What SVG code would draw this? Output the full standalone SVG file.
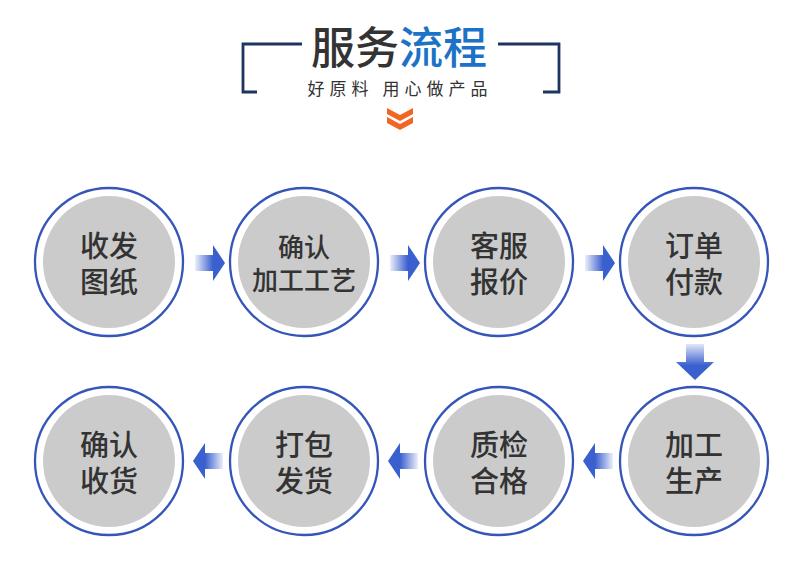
<svg xmlns="http://www.w3.org/2000/svg" width="800" height="563" viewBox="0 0 800 563">
<defs>
<style>
.ring{fill:none;stroke:#3555b8;stroke-width:2.3}
.disc{fill:#cbcbcb}
.t{font-family:"Noto Sans CJK SC","Noto Sans",sans-serif;fill:#333;text-anchor:middle;font-weight:500}
.br{fill:none;stroke:#1e3560;stroke-width:2.8}
</style>
<linearGradient id="gr" x1="0" y1="0" x2="1" y2="0">
<stop offset="0" stop-color="#3a5fcf" stop-opacity="0.1"/>
<stop offset="0.6" stop-color="#3a5fcf"/>
<stop offset="1" stop-color="#3a5fcf"/>
</linearGradient>
<linearGradient id="gl" x1="1" y1="0" x2="0" y2="0">
<stop offset="0" stop-color="#3a5fcf" stop-opacity="0.1"/>
<stop offset="0.6" stop-color="#3a5fcf"/>
<stop offset="1" stop-color="#3a5fcf"/>
</linearGradient>
<linearGradient id="gd" x1="0" y1="0" x2="0" y2="1">
<stop offset="0" stop-color="#3a5fcf" stop-opacity="0.15"/>
<stop offset="0.6" stop-color="#3a5fcf"/>
<stop offset="1" stop-color="#3a5fcf"/>
</linearGradient>
</defs>
<rect width="800" height="563" fill="#fff"/>
<g id="header">
<path class="br" d="M302 44H243V92H257"/>
<path class="br" d="M498 44H559V92H543"/>
<text x="399" y="64" font-family="'Noto Sans CJK SC',sans-serif" font-size="44" text-anchor="middle" font-weight="500"><tspan fill="#333">服务</tspan><tspan fill="#1b72c6">流程</tspan></text>
<text x="400" y="95" font-family="'Noto Sans CJK SC',sans-serif" font-size="17" fill="#333" text-anchor="middle" letter-spacing="5">好原料 用心做产品</text>
<path d="M387 108L400 115L413 108V114L400 121L387 114Z M387 117L400 124L413 117V123L400 130L387 123Z" fill="#f26522"/>
</g>
<g id="n1"><circle class="ring" cx="109" cy="262" r="74"/><circle class="disc" cx="109" cy="262" r="66"/><text class="t" font-size="29"><tspan x="109" y="257">收发</tspan><tspan x="109" y="293">图纸</tspan></text></g>
<g id="n2"><circle class="ring" cx="304" cy="262" r="74"/><circle class="disc" cx="304" cy="262" r="66"/><text class="t" font-size="26"><tspan x="304" y="257">确认</tspan><tspan x="304" y="290">加工工艺</tspan></text></g>
<g id="n3"><circle class="ring" cx="499" cy="262" r="74"/><circle class="disc" cx="499" cy="262" r="66"/><text class="t" font-size="29"><tspan x="499" y="257">客服</tspan><tspan x="499" y="293">报价</tspan></text></g>
<g id="n4"><circle class="ring" cx="694" cy="262" r="74"/><circle class="disc" cx="694" cy="262" r="66"/><text class="t" font-size="29"><tspan x="694" y="257">订单</tspan><tspan x="694" y="293">付款</tspan></text></g>
<g id="n5"><circle class="ring" cx="694" cy="461" r="74"/><circle class="disc" cx="694" cy="461" r="66"/><text class="t" font-size="29"><tspan x="694" y="456">加工</tspan><tspan x="694" y="492">生产</tspan></text></g>
<g id="n6"><circle class="ring" cx="499" cy="461" r="74"/><circle class="disc" cx="499" cy="461" r="66"/><text class="t" font-size="29"><tspan x="499" y="456">质检</tspan><tspan x="499" y="492">合格</tspan></text></g>
<g id="n7"><circle class="ring" cx="304" cy="461" r="74"/><circle class="disc" cx="304" cy="461" r="66"/><text class="t" font-size="29"><tspan x="304" y="456">打包</tspan><tspan x="304" y="492">发货</tspan></text></g>
<g id="n8"><circle class="ring" cx="109" cy="461" r="74"/><circle class="disc" cx="109" cy="461" r="66"/><text class="t" font-size="29"><tspan x="109" y="456">确认</tspan><tspan x="109" y="492">收货</tspan></text></g>
<g id="connectors">
<path d="M195 255H213V245L225 263L213 281V271H195Z" fill="url(#gr)"/>
<path d="M390 255H408V245L420 263L408 281V271H390Z" fill="url(#gr)"/>
<path d="M585 255H603V245L615 263L603 281V271H585Z" fill="url(#gr)"/>
<path d="M686 344V362H676L695 380L714 362H704V344Z" fill="url(#gd)"/>
<path d="M613 453H595V443L583 461L595 479V469H613Z" fill="url(#gl)"/>
<path d="M418 453H400V443L388 461L400 479V469H418Z" fill="url(#gl)"/>
<path d="M223 453H205V443L193 461L205 479V469H223Z" fill="url(#gl)"/>
</g>
</svg>
